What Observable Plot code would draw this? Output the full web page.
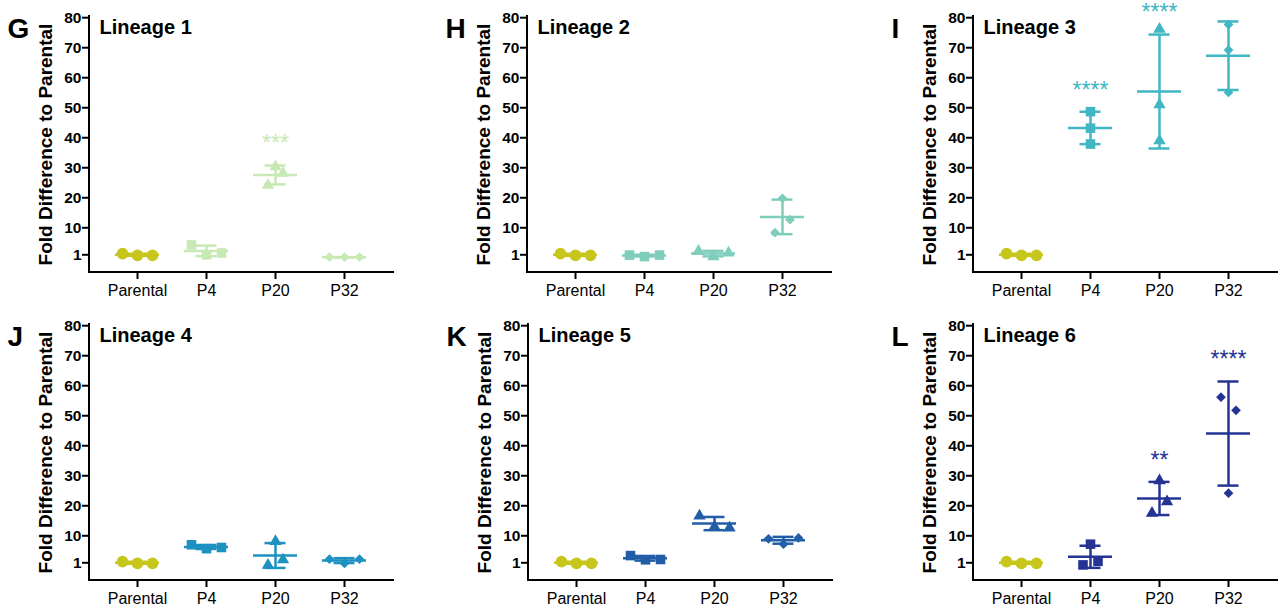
<!DOCTYPE html>
<html><head><meta charset="utf-8">
<script src="https://cdn.jsdelivr.net/npm/d3@7"></script>
<script src="https://cdn.jsdelivr.net/npm/@observablehq/plot@0.6"></script>
<style>
html,body{margin:0;padding:0;background:#fff;overflow:hidden;}
#chart{position:relative;width:1286px;height:608px;}
#chart svg{position:absolute;overflow:visible;}
</style></head><body><div id="chart"></div>
<script>
// ---- data ----
const passages = ["Parental", "P4", "P20", "P32"];
const lineageNames = ["Lineage 1", "Lineage 2", "Lineage 3", "Lineage 4", "Lineage 5", "Lineage 6"];
const panelLetters = ["G", "H", "I", "J", "K", "L"];
const yTicks = [1, 10, 20, 30, 40, 50, 60, 70, 80];
const yLabel = "Fold Difference to Parental";
// three replicates per group (P4, P20, P32)
const parental = [1.4, 0.8, 0.8];
const lineage1 = [[4.3, 1.0, 1.6], [24.2, 30.4, 28.2], [0.2, 0.2, 0.25]];
const lineage2 = [[0.9, 0.4, 0.9], [2.2, 0.4, 1.6], [8.4, 19.8, 12.7]];
const lineage3 = [[48.7, 43.2, 37.9], [76.2, 51.0, 39.0], [77.7, 69.2, 55.1]];
const lineage4 = [[7.0, 5.7, 6.1], [0.2, 8.1, 2.0], [2.2, 0.8, 2.2]];
const lineage5 = [[3.4, 2.0, 2.1], [16.6, 13.0, 12.6], [9.0, 7.2, 9.3]];
const lineage6 = [[0.3, 7.2, 1.5], [17.5, 28.4, 21.4], [56.2, 24.2, 51.8]];
const significance = [
  ["", "***", ""], ["", "", ""], ["****", "****", "****"],
  ["", "", ""], ["", "", ""], ["", "**", "****"]
];
const allLineages = [lineage1, lineage2, lineage3, lineage4, lineage5, lineage6];

// ---- styles / layout ----
const parentalColor = "#c6c61c";
const lineageColors = ["#c7e9b4", "#7fcdbb", "#41b6c4", "#1d91c0", "#225ea8", "#253494"];
const shapes = {Parental: "circle", P4: "square", P20: "triangle", P32: "diamond2"};
const shapeR = {Parental: 5.8, P4: 5.4, P20: 4.6, P32: 4.4};
const font = "'Liberation Sans', Arial, sans-serif";
const W = 392, H = 300, ML = 80, MR = 8, MT = 16, MB = 28;
const yDomain = [-4.9, 80.4];
const ppu = (H - MT - MB) / (yDomain[1] - yDomain[0]);
const panelLeft = [[9, 447, 893], [9, 448, 893]];
const panelTop = [0, 308];
const LW = 2.5;

function spread(vals) {
  const px = vals.map(v => v * ppu);
  let n = 0;
  for (let a = 0; a < 3; a++) for (let b = a + 1; b < 3; b++) if (Math.abs(px[a] - px[b]) < 14) n++;
  return n === 3 ? 15 : n > 0 ? 7.5 : 0;
}

function axisLines(index, scales, values, dims) {
  const g = d3.create("svg:g").attr("stroke", "black").attr("stroke-width", 2).attr("stroke-linecap", "square");
  const x0 = dims.marginLeft, x1 = dims.width - dims.marginRight;
  const y0 = dims.marginTop, y1 = dims.height - dims.marginBottom;
  g.append("line").attr("x1", x0).attr("x2", x0).attr("y1", y0).attr("y2", y1);
  g.append("line").attr("x1", x0).attr("x2", x1).attr("y1", y1).attr("y2", y1);
  return g.node();
}

function panel(i) {
  const color = lineageColors[i];
  const groups = [parental, ...allLineages[i]];
  const summary = [];
  const dotMarks = [];
  groups.forEach((vals, j) => {
    const s = spread(vals);
    const c = j === 0 ? parentalColor : color;
    const p = passages[j];
    vals.forEach((v, k) => {
      dotMarks.push(Plot.dot([{passage: p, value: v}], {
        x: "passage", y: "value", dx: (k - 1) * s, symbol: shapes[p], fill: c, r: shapeR[p], stroke: "none"
      }));
    });
    const m = d3.mean(vals), sd = d3.deviation(vals);
    summary.push({passage: p, mean: m, lo: m - sd, hi: m + sd, color: c,
      label: j === 0 ? "" : significance[i][j - 1]});
  });
  const svg = Plot.plot({
    width: W, height: H, marginLeft: ML, marginRight: MR, marginTop: MT, marginBottom: MB,
    style: {fontFamily: font, color: "black", background: "white"},
    x: {type: "band", domain: passages, paddingInner: 0.357, paddingOuter: 0.35, label: null},
    y: {domain: yDomain, label: null},
    color: {type: "identity"},
    marks: [
      Plot.ruleX(summary, {x: "passage", y1: "lo", y2: "hi", stroke: "color", strokeWidth: LW}),
      Plot.tickY(summary, {x: "passage", y: "mean", stroke: "color", strokeWidth: LW}),
      Plot.tickY(summary, {x: "passage", y: "hi", stroke: "color", strokeWidth: LW, inset: 11.5}),
      Plot.tickY(summary, {x: "passage", y: "lo", stroke: "color", strokeWidth: LW, inset: 11.5}),
      ...dotMarks,
      Plot.text(summary.filter(d => d.label), {x: "passage", y: "hi", text: "label", fill: "color", dy: -21.5, fontSize: 23}),
      Plot.axisY({ticks: yTicks, tickSize: 7, tickPadding: 1, fontSize: 15.5, fontWeight: "bold", strokeWidth: 2, label: null}),
      Plot.axisX({tickSize: 7, tickPadding: 5, fontSize: 16, strokeWidth: 2, label: null}),
      axisLines,
      Plot.text([lineageNames[i]], {frameAnchor: "top-left", dx: 10, dy: 11, textAnchor: "start", lineAnchor: "middle", fontSize: 20, fontWeight: "bold"}),
      Plot.text([panelLetters[i]], {frameAnchor: "top-left", dx: -82, dy: 13, textAnchor: "start", lineAnchor: "middle", fontSize: 28, fontWeight: "bold"}),
      Plot.text([yLabel], {frameAnchor: "left", dx: -44, rotate: -90, textAnchor: "middle", lineAnchor: "middle", fontSize: 19, fontWeight: "bold"})
    ]
  });
  const s = d3.select(svg);
  s.selectAll('g[aria-label="y-axis tick label"]').attr("font-size", 15.5).attr("font-weight", "bold")
    .selectAll("text").attr("font-size", 15.5);
  s.selectAll('g[aria-label="x-axis tick label"]').attr("font-size", 16)
    .selectAll("text").attr("font-size", 16);
  return svg;
}

const chart = document.getElementById("chart");
for (let i = 0; i < 6; i++) {
  const r = Math.floor(i / 3), c = i % 3;
  const svg = panel(i);
  svg.style.left = panelLeft[r][c] + "px";
  svg.style.top = panelTop[r] + "px";
  chart.appendChild(svg);
}
</script></body></html>
